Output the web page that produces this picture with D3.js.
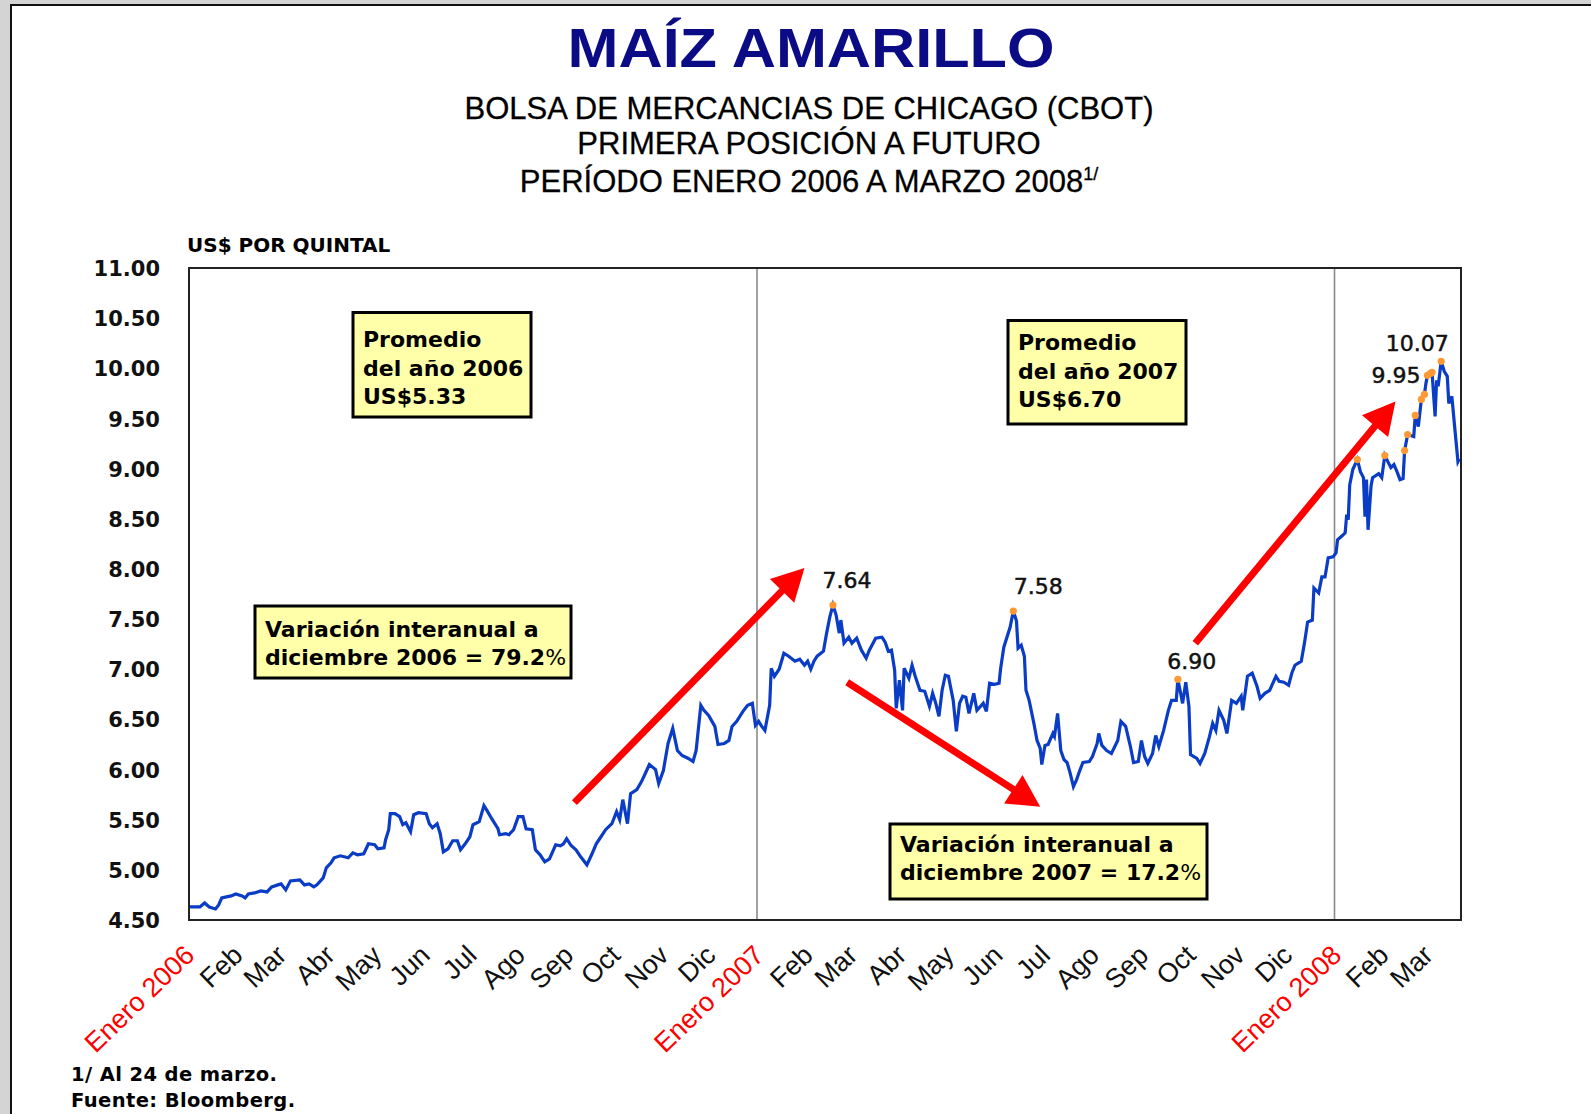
<!DOCTYPE html>
<html><head><meta charset="utf-8">
<script src="https://cdn.jsdelivr.net/npm/d3@7"></script>
<style>body{margin:0;background:#d4d4d4;} svg{display:block}</style>
</head><body>
<svg id="c" width="1591" height="1114"></svg>
<script>
// ---- DATA ----
// días transcurridos desde el 2 de enero de 2006
const dias = [0,7,10,13,17,19,21,24,27,30,34,36,38,42,46,50,53,57,59,62,65,71,74,77,80,82,86,88,91,93,97,102,105,108,112,115,119,121,125,126,128,129,132,135,137,139,142,144,147,152,154,156,159,161,163,166,169,172,174,177,180,182,186,189,191,194,198,199,203,205,208,211,214,216,220,222,225,228,231,235,238,240,242,245,248,251,255,258,261,264,267,271,274,276,278,281,283,287,290,293,295,299,301,304,307,310,313,316,320,323,325,328,330,333,337,339,343,346,348,351,355,358,361,363,365,367,369,372,373,375,378,381,384,388,391,394,396,398,400,402,406,408,410,412,414,416,417,419,422,424,427,430,433,435,439,443,445,447,449,451,452,454,456,457,460,462,464,467,470,473,475,477,479,481,483,485,488,490,492,494,496,498,501,503,507,509,511,514,517,518,520,524,526,528,529,531,533,534,536,539,541,543,544,546,548,551,552,554,556,558,560,562,564,566,568,570,574,576,579,580,582,585,588,592,594,597,600,602,605,607,609,611,614,616,618,621,624,626,629,630,633,635,637,638,642,644,647,650,652,654,656,659,661,664,667,670,671,674,677,680,682,685,688,692,694,697,700,702,704,708,710,712,715,716,719,721,723,725,728,730,731,734,736,737,738,739,741,744,746,748,749,750,751,753,754,758,760,762,766,768,770,772,774,775,777,781,782,784,786,788,789,790,792,793,795,796,797,799,801,803,804,806,808,810,811];
const precios = [4.63,4.63,4.67,4.63,4.61,4.65,4.72,4.73,4.74,4.76,4.74,4.72,4.76,4.77,4.79,4.78,4.83,4.85,4.86,4.80,4.89,4.90,4.85,4.86,4.83,4.85,4.92,5.02,5.07,5.12,5.14,5.12,5.17,5.15,5.16,5.26,5.25,5.21,5.22,5.30,5.40,5.56,5.56,5.53,5.45,5.47,5.38,5.55,5.57,5.56,5.46,5.42,5.46,5.36,5.18,5.21,5.29,5.29,5.20,5.26,5.33,5.45,5.48,5.64,5.59,5.51,5.41,5.35,5.36,5.35,5.40,5.53,5.53,5.41,5.40,5.20,5.15,5.08,5.11,5.25,5.24,5.26,5.31,5.24,5.20,5.13,5.05,5.15,5.26,5.33,5.40,5.46,5.58,5.50,5.70,5.46,5.76,5.80,5.88,5.98,6.05,6.00,5.86,5.99,6.26,6.41,6.19,6.14,6.11,6.08,6.19,6.64,6.59,6.54,6.43,6.25,6.26,6.29,6.43,6.48,6.58,6.64,6.66,6.44,6.48,6.43,6.39,6.64,7.01,6.93,7.00,7.16,7.13,7.08,7.10,7.04,7.08,7.00,7.08,7.13,7.18,7.36,7.52,7.64,7.54,7.36,7.49,7.26,7.32,7.26,7.31,7.19,7.11,7.19,7.31,7.32,7.27,7.18,7.19,6.99,6.61,6.89,6.59,7.01,6.91,7.04,6.93,6.79,6.78,6.63,6.76,6.66,6.53,6.79,6.94,6.93,6.69,6.38,6.66,6.73,6.72,6.56,6.76,6.59,6.66,6.58,6.86,6.85,6.86,7.01,7.22,7.42,7.58,7.48,7.21,7.24,7.13,6.79,6.69,6.46,6.29,6.21,6.05,6.24,6.25,6.36,6.33,6.56,6.19,6.10,6.07,5.96,5.83,5.90,5.99,6.07,6.08,6.13,6.26,6.36,6.24,6.19,6.16,6.29,6.48,6.43,6.23,6.07,6.08,6.29,6.13,6.06,6.16,6.34,6.23,6.39,6.59,6.69,6.69,6.90,6.66,6.87,6.63,6.15,6.11,6.06,6.16,6.33,6.46,6.39,6.59,6.49,6.36,6.69,6.66,6.73,6.59,6.93,6.96,6.83,6.71,6.76,6.79,6.93,6.88,6.87,6.84,6.96,7.04,7.08,7.26,7.47,7.49,7.81,7.76,7.92,7.92,8.11,8.12,8.16,8.29,8.33,8.36,8.54,8.49,8.84,8.99,9.09,8.97,8.91,8.52,8.89,8.39,8.83,8.91,8.95,8.91,9.13,9.01,9.04,8.97,8.89,8.90,9.18,9.34,9.32,9.53,9.42,9.69,9.74,9.85,9.93,9.95,9.96,9.52,9.88,9.82,10.07,9.97,9.92,9.65,9.72,9.39,9.07,9.10];

// máximos resaltados (puntos naranjas)
const maximosDias = [412,526,630,744,762,775,777,782,786,788,790,792,793,799];
const maximosValores = [7.64,7.58,6.90,9.09,9.13,9.18,9.34,9.53,9.69,9.74,9.93,9.95,9.96,10.07];

// etiquetas de valor
const etiquetasDias = [412,526,630,792,799];
const etiquetasValores = [7.64,7.58,6.90,9.95,10.07];
const etiquetasTexto = ["7.64","7.58","6.90","9.95","10.07"];

const yTicks = [4.5,5.0,5.5,6.0,6.5,7.0,7.5,8.0,8.5,9.0,9.5,10.0,10.5,11.0];
const etiquetasMeses = ["Enero 2006","Feb","Mar","Abr","May","Jun","Jul","Ago","Sep","Oct","Nov","Dic",
  "Enero 2007","Feb","Mar","Abr","May","Jun","Jul","Ago","Sep","Oct","Nov","Dic",
  "Enero 2008","Feb","Mar"];

// flechas de tendencia: [díaInicio, valorInicio, díaFin, valorFin]
const flechas = [[247.6,5.67,394.3,8.01],[421.7,6.87,543.9,5.63],[641.9,7.26,769.4,9.67]];

// ---- LAYOUT ----
const svg = d3.select("#c");
const base = new Date(2006,0,2);
const fecha = d => d3.timeDay.offset(base, d);
const L=189, R=1461, T=268, B=920;

// white panel with frame
svg.append("rect").attr("x",11).attr("y",5).attr("width",1600).attr("height",1200)
  .attr("fill","#fff").attr("stroke","#111").attr("stroke-width",2);

const x = d3.scaleTime()
  .domain([base, new Date(2007,0,1), new Date(2008,0,1), new Date(2008,2,24)])
  .range([L, 757, 1334.5, R]);
const y = d3.scaleLinear().domain([4.5,11]).range([B,T]);

// titles
svg.append("text").attr("x",811).attr("y",67).attr("text-anchor","middle")
  .attr("font-family","Liberation Sans, Arial, sans-serif").attr("font-weight","bold")
  .attr("font-size",56).attr("textLength",487).attr("lengthAdjust","spacingAndGlyphs")
  .attr("fill","#0b0b85").text("MAÍZ AMARILLO");
const sub = ["BOLSA DE MERCANCIAS DE CHICAGO (CBOT)","PRIMERA POSICIÓN A FUTURO"];
sub.forEach((s,i)=>{
  svg.append("text").attr("x",809).attr("y",[119,154][i]).attr("text-anchor","middle")
    .attr("font-family","Liberation Sans, Arial, sans-serif").attr("font-size",31)
    .attr("fill","#000").attr("stroke","#000").attr("stroke-width",0.3).text(s);
});
const t3 = svg.append("text").attr("x",809).attr("y",192).attr("text-anchor","middle")
  .attr("font-family","Liberation Sans, Arial, sans-serif").attr("font-size",31)
  .attr("fill","#000").attr("stroke","#000").attr("stroke-width",0.3);
t3.append("tspan").text("PERÍODO ENERO 2006 A MARZO 2008");
t3.append("tspan").attr("font-size",18).attr("dy",-12).text("1/");

svg.append("text").attr("x",187).attr("y",252)
  .attr("font-family","DejaVu Sans, Verdana, sans-serif").attr("font-weight","bold")
  .attr("font-size",20).attr("fill","#000").text("US$ POR QUINTAL");

// plot background
svg.append("rect").attr("x",L).attr("y",T).attr("width",R-L).attr("height",B-T).attr("fill","#fff");

// year separators
[new Date(2007,0,1), new Date(2008,0,1)].forEach(d=>{
  svg.append("line").attr("x1",x(d)).attr("x2",x(d)).attr("y1",T).attr("y2",B)
    .attr("stroke","#8a8a8a").attr("stroke-width",1.6);
});

// y axis
const gy = svg.append("g").attr("transform",`translate(${L},0)`)
  .call(d3.axisLeft(y).tickValues(yTicks).tickSize(0).tickPadding(29).tickFormat(d3.format(".2f")));
gy.select(".domain").remove();
gy.selectAll("text").attr("font-family","DejaVu Sans, Verdana, sans-serif")
  .attr("font-weight","bold").attr("font-size",21).attr("fill","#111").attr("dy","0.36em");

// x axis
const fechasMeses = d3.timeMonth.range(new Date(2006,0,1), new Date(2008,2,2));
const gx = svg.append("g").attr("transform",`translate(0,${B})`)
  .call(d3.axisBottom(x).tickValues(fechasMeses).tickSize(0).tickFormat((d,i)=>etiquetasMeses[i]));
gx.select(".domain").remove();
gx.selectAll("text").attr("x",0).attr("y",0).attr("dy",0)
  .attr("text-anchor","end").attr("transform","translate(8,37) rotate(-44)")
  .attr("font-family","Liberation Sans, Arial, sans-serif").attr("font-size",27)
  .attr("fill",(d,i)=> etiquetasMeses[i].startsWith("Enero") ? "#ff0000" : "#111");

// series
const serie = dias.map((d,i)=>({f:fecha(d), v:precios[i]}));
const linea = d3.line().x(d=>x(d.f)).y(d=>y(d.v));
svg.append("path").datum(serie).attr("d",linea).attr("fill","none")
  .attr("stroke","#0a3cc6").attr("stroke-width",3.2).attr("stroke-linejoin","miter");

// orange highlight points
svg.selectAll("circle.max").data(maximosDias.map((d,i)=>({f:fecha(d),v:maximosValores[i]})))
  .enter().append("circle").attr("class","max")
  .attr("cx",d=>x(d.f)).attr("cy",d=>y(d.v)).attr("r",3.6).attr("fill","#ff9933");

// value labels
const offs = [[14,-17,"middle"],[25,-17,"middle"],[14,-10,"middle"],[-10,10,"end"],[-24,-10,"middle"]];
etiquetasDias.forEach((d,i)=>{
  svg.append("text").attr("x",x(fecha(d))+offs[i][0]).attr("y",y(etiquetasValores[i])+offs[i][1])
    .attr("text-anchor",offs[i][2]).attr("font-family","DejaVu Sans, Verdana, sans-serif")
    .attr("font-size",22).attr("fill","#111").attr("stroke","#111").attr("stroke-width",0.5)
    .text(etiquetasTexto[i]);
});

// arrows
flechas.forEach(a=>{
  const x1=x(fecha(a[0])), y1=y(a[1]), x2=x(fecha(a[2])), y2=y(a[3]);
  const ang=Math.atan2(y2-y1,x2-x1), hl=32, hw=17;
  const bx=x2-hl*Math.cos(ang), by=y2-hl*Math.sin(ang);
  svg.append("line").attr("x1",x1).attr("y1",y1).attr("x2",bx+2*Math.cos(ang)).attr("y2",by+2*Math.sin(ang))
    .attr("stroke","#ff0000").attr("stroke-width",7);
  const p=[[x2,y2],[bx-hw*Math.sin(ang),by+hw*Math.cos(ang)],[bx+hw*Math.sin(ang),by-hw*Math.cos(ang)]];
  svg.append("path").attr("d","M"+p.map(q=>q.join(",")).join("L")+"Z").attr("fill","#ff0000");
});

// text boxes
const cajas = [
  {x:353,y:312.5,w:178,h:104.5,tx:363,ty:[347,376,404],lines:["Promedio","del año 2006","US$5.33"]},
  {x:1008,y:320.5,w:178,h:103.5,tx:1018,ty:[350,378.5,407],lines:["Promedio","del año 2007","US$6.70"]},
  {x:255,y:606,w:316,h:72,tx:265,ty:[636.5,665],lines:["Variación interanual a","diciembre 2006 = 79.2%"]},
  {x:890,y:824,w:317,h:75,tx:900,ty:[851.5,880],lines:["Variación interanual a","diciembre 2007 = 17.2%"]}
];
cajas.forEach(c=>{
  svg.append("rect").attr("x",c.x).attr("y",c.y).attr("width",c.w).attr("height",c.h)
    .attr("fill","#ffffaa").attr("stroke","#000").attr("stroke-width",3);
  c.lines.forEach((l,i)=>{
    const t=svg.append("text").attr("x",c.tx).attr("y",c.ty[i])
      .attr("font-family","DejaVu Sans, Verdana, sans-serif").attr("font-weight","bold")
      .attr("font-size",22).attr("fill","#000");
    if(l.endsWith("%")){ t.append("tspan").text(l.slice(0,-1)); t.append("tspan").attr("font-weight","normal").text("%"); }
    else t.text(l);
  });
});

// plot border
svg.append("rect").attr("x",L).attr("y",T).attr("width",R-L).attr("height",B-T)
  .attr("fill","none").attr("stroke","#222").attr("stroke-width",2);

// footnotes
["1/ Al 24 de marzo.","Fuente: Bloomberg."].forEach((s,i)=>{
  svg.append("text").attr("x",71).attr("y",[1081,1107][i])
    .attr("font-family","DejaVu Sans, Verdana, sans-serif").attr("font-weight","bold")
    .attr("font-size",19.5).attr("letter-spacing",0.4).attr("fill","#000").text(s);
});
</script>
</body></html>
